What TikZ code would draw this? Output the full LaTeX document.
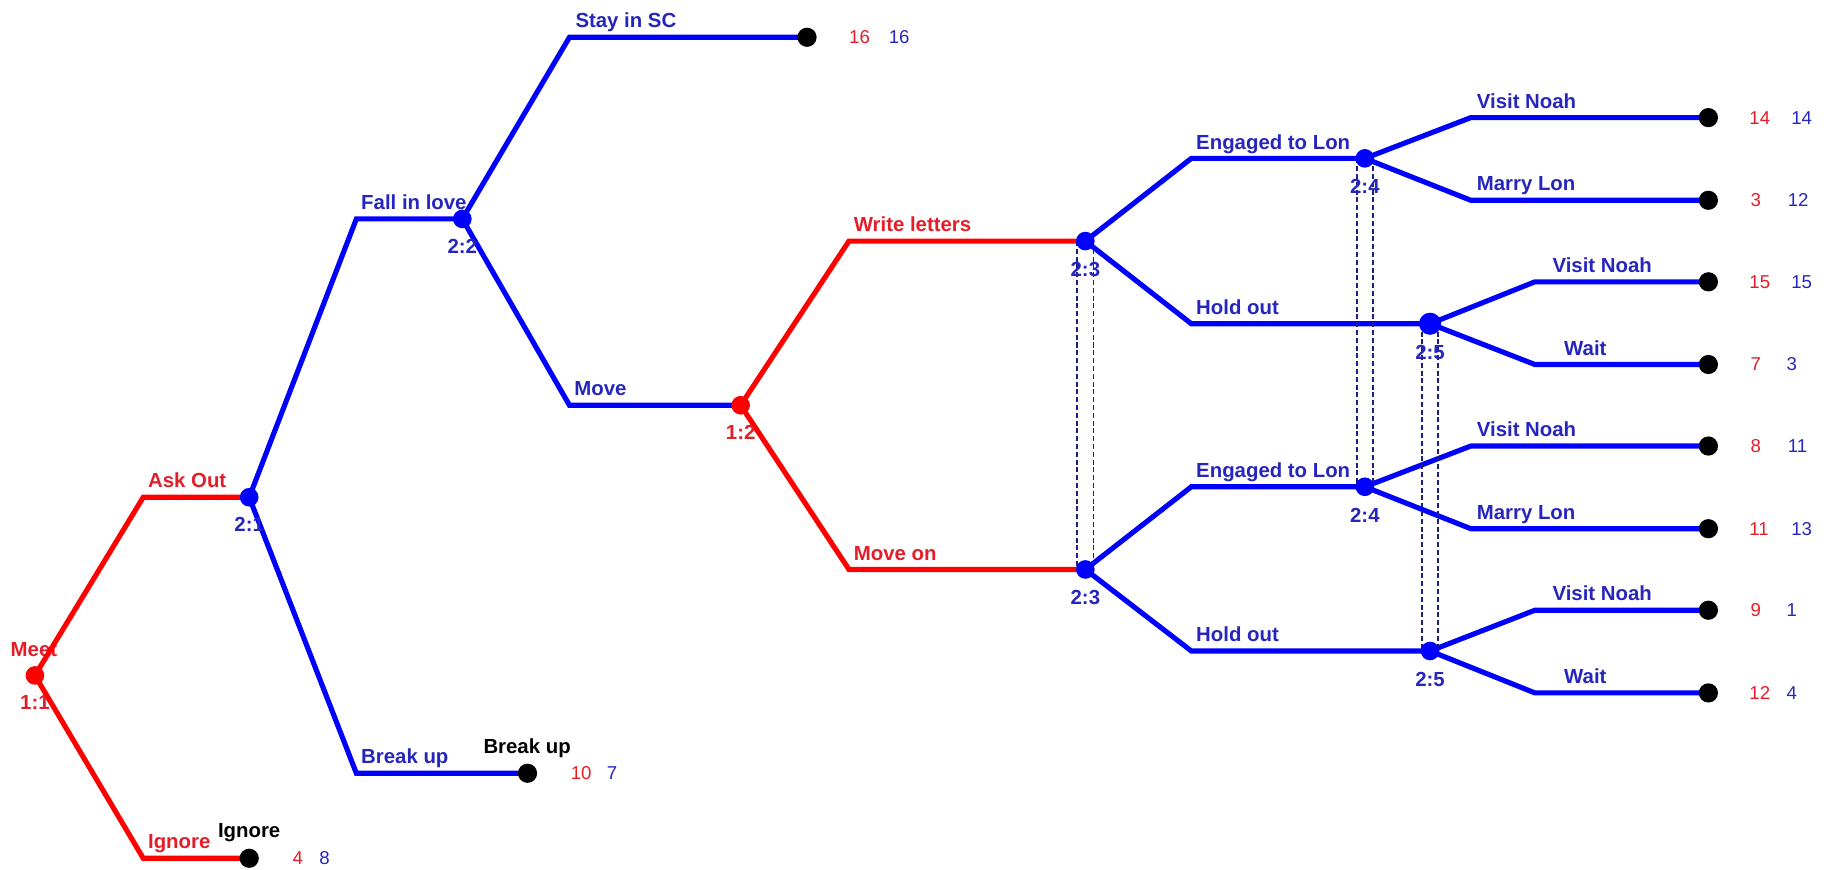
\documentclass[tikz,border=0pt]{standalone}
\usepackage{fontspec}
\setmainfont{Liberation Sans}
\pgfdeclarelayer{lbl}
\pgfdeclarelayer{edg}
\pgfsetlayers{lbl,edg,main}
\definecolor{redline}{RGB}{255,0,0}
\definecolor{blueline}{RGB}{0,0,255}
\definecolor{redtext}{RGB}{228,30,40}
\definecolor{bluetext}{RGB}{38,38,190}
\definecolor{infoblue}{RGB}{30,30,130}
\newcommand\mylabfont{\fontsize{17.5}{20}\selectfont\bfseries}
\newcommand\mypayfont{\fontsize{16}{18}\selectfont}
\tikzset{
  dec/.style={circle, inner sep=0pt, minimum size=16pt},
  rdec/.style={dec, fill=redline},
  bdec/.style={dec, fill=blueline},
  term/.style={circle, inner sep=0pt, minimum size=16.5pt, fill=black},
  redbr/.style={draw=redline, line width=4.4pt},
  bluebr/.style={draw=blueline, line width=4.4pt},
  infoset/.style={draw=infoblue, line width=1.4pt, dash pattern=on 4.3pt off 2.4pt},
  lab/.style={font=\mylabfont, inner sep=0pt, anchor=base west},
  rlab/.style={lab, text=redtext},
  blab/.style={lab, text=bluetext},
  klab/.style={lab, text=black},
  idlab/.style={font=\mylabfont, inner sep=0pt, anchor=north},
  pay/.style={font=\mypayfont, inner sep=0pt, anchor=west},
  rpay/.style={pay, text=redtext},
  bpay/.style={pay, text=bluetext}
}
\begin{document}
\begin{tikzpicture}[x=1pt,y=-1pt]
\useasboundingbox (0,0) rectangle (1568,747);
% bends
\coordinate (bAsk) at (123,427);
\coordinate (bIgn) at (123,737);
\coordinate (bFall) at (306,188);
\coordinate (bBrk) at (306,664);
\coordinate (bStay) at (489,32);
\coordinate (bMove) at (489,348);
\coordinate (bWl) at (729,207);
\coordinate (bMo) at (729,489);
\coordinate (bEa) at (1023,136);
\coordinate (bHa) at (1023,278);
\coordinate (bEb) at (1023,418);
\coordinate (bHb) at (1023,559);
\coordinate (bV1) at (1263,101);
\coordinate (bM1) at (1263,172);
\coordinate (bV2) at (1318,242);
\coordinate (bW2) at (1318,313);
\coordinate (bV3) at (1263,383);
\coordinate (bM3) at (1263,454);
\coordinate (bV4) at (1318,524);
\coordinate (bW4) at (1318,595);
% decision nodes
\node[rdec] (n11) at (30,580) {};
\node[bdec] (n21) at (214,427) {};
\node[bdec] (n22) at (397,188) {};
\node[rdec] (n12) at (636,348) {};
\node[bdec] (n23a) at (932,207) {};
\node[bdec] (n23b) at (932,489) {};
\node[bdec] (n24a) at (1172,136) {};
\node[bdec] (n24b) at (1172,418) {};
\node[bdec, minimum size=19pt] (n25a) at (1228,278) {};
\node[bdec] (n25b) at (1228,559) {};
% terminals
\node[term] (tIgn) at (214,737) {};
\node[term] (tBrk) at (453,664) {};
\node[term] (tStay) at (693,32) {};
\node[term] (t1) at (1467,101) {};
\node[term] (t2) at (1467,172) {};
\node[term] (t3) at (1467,242) {};
\node[term] (t4) at (1467,313) {};
\node[term] (t5) at (1467,383) {};
\node[term] (t6) at (1467,454) {};
\node[term] (t7) at (1467,524) {};
\node[term] (t8) at (1467,595) {};
% edges
\begin{pgfonlayer}{edg}
\draw[redbr] (n11.center) -- (bAsk) -- (n21.center);
\draw[redbr] (n11.center) -- (bIgn) -- (tIgn.center);
\draw[bluebr] (n21.center) -- (bFall) -- (n22.center);
\draw[bluebr] (n21.center) -- (bBrk) -- (tBrk.center);
\draw[bluebr] (n22.center) -- (bStay) -- (tStay.center);
\draw[bluebr] (n22.center) -- (bMove) -- (n12.center);
\draw[redbr] (n12.center) -- (bWl) -- (n23a.center);
\draw[redbr] (n12.center) -- (bMo) -- (n23b.center);
\draw[bluebr] (n23a.center) -- (bEa) -- (n24a.center);
\draw[bluebr] (n23a.center) -- (bHa) -- (n25a.center);
\draw[bluebr] (n23b.center) -- (bEb) -- (n24b.center);
\draw[bluebr] (n23b.center) -- (bHb) -- (n25b.center);
\draw[bluebr] (n24a.center) -- (bV1) -- (t1.center);
\draw[bluebr] (n24a.center) -- (bM1) -- (t2.center);
\draw[bluebr] (n25a.center) -- (bV2) -- (t3.center);
\draw[bluebr] (n25a.center) -- (bW2) -- (t4.center);
\draw[bluebr] (n24b.center) -- (bV3) -- (t5.center);
\draw[bluebr] (n24b.center) -- (bM3) -- (t6.center);
\draw[bluebr] (n25b.center) -- (bV4) -- (t7.center);
\draw[bluebr] (n25b.center) -- (bW4) -- (t8.center);
% information sets
\draw[infoset] ([xshift=-7pt]n23a.center) -- ([xshift=-7pt]n23b.center);
\draw[infoset] ([xshift=7pt]n23a.center) -- ([xshift=7pt]n23b.center);
\draw[infoset] ([xshift=-7pt]n24a.center) -- ([xshift=-7pt]n24b.center);
\draw[infoset] ([xshift=7pt]n24a.center) -- ([xshift=7pt]n24b.center);
\draw[infoset] ([xshift=-7pt]n25a.center) -- ([xshift=-7pt]n25b.center);
\draw[infoset] ([xshift=7pt]n25a.center) -- ([xshift=7pt]n25b.center);
\end{pgfonlayer}
% labels
\begin{pgfonlayer}{lbl}
\node[rlab] (lMeet) at (9,564) {Meet};
\node[rlab] (lAsk) at ([xshift=4pt,yshift=8pt]bAsk) {Ask Out};
\node[rlab] (lIgn) at ([xshift=4pt,yshift=8pt]bIgn) {Ignore};
\node[klab] (lIgnK) at ([xshift=-27pt,yshift=18pt]tIgn.center) {Ignore};
\node[blab] (lFall) at ([xshift=4pt,yshift=8pt]bFall) {Fall in love};
\node[blab] (lBrk) at ([xshift=4pt,yshift=8pt]bBrk) {Break up};
\node[klab] (lBrkK) at ([xshift=-38pt,yshift=17pt]tBrk.center) {Break up};
\node[blab] (lStay) at ([xshift=5pt,yshift=8pt]bStay) {Stay in SC};
\node[blab] (lMove) at ([xshift=4pt,yshift=8pt]bMove) {Move};
\node[rlab] (lWl) at ([xshift=4pt,yshift=8pt]bWl) {Write letters};
\node[rlab] (lMo) at ([xshift=4pt,yshift=8pt]bMo) {Move on};
\node[blab] (lEa) at ([xshift=4pt,yshift=8pt]bEa) {Engaged to Lon};
\node[blab] (lHa) at ([xshift=4pt,yshift=8pt]bHa) {Hold out};
\node[blab] (lEb) at ([xshift=4pt,yshift=8pt]bEb) {Engaged to Lon};
\node[blab] (lHb) at ([xshift=4pt,yshift=8pt]bHb) {Hold out};
\node[blab] (lV1) at ([xshift=5pt,yshift=8pt]bV1) {Visit Noah};
\node[blab] (lM1) at ([xshift=5pt,yshift=8pt]bM1) {Marry Lon};
\node[blab] (lV2) at ([xshift=15pt,yshift=8pt]bV2) {Visit Noah};
\node[blab] (lW2) at ([xshift=25pt,yshift=8pt]bW2) {Wait};
\node[blab] (lV3) at ([xshift=5pt,yshift=8pt]bV3) {Visit Noah};
\node[blab] (lM3) at ([xshift=5pt,yshift=8pt]bM3) {Marry Lon};
\node[blab] (lV4) at ([xshift=15pt,yshift=8pt]bV4) {Visit Noah};
\node[blab] (lW4) at ([xshift=25pt,yshift=8pt]bW4) {Wait};
\end{pgfonlayer}
% node ids
\node[idlab, text=redtext] (i11) at ([yshift=-17pt]n11.center) {1:1};
\node[idlab, text=bluetext] (i21) at ([yshift=-17pt]n21.center) {2:1};
\node[idlab, text=bluetext] (i22) at ([yshift=-17pt]n22.center) {2:2};
\node[idlab, text=redtext] (i12) at ([yshift=-17pt]n12.center) {1:2};
\node[idlab, text=bluetext] (i23a) at ([yshift=-18pt]n23a.center) {2:3};
\node[idlab, text=bluetext] (i23b) at ([yshift=-18pt]n23b.center) {2:3};
\node[idlab, text=bluetext] (i24a) at ([yshift=-18pt]n24a.center) {2:4};
\node[idlab, text=bluetext] (i24b) at ([yshift=-18pt]n24b.center) {2:4};
\node[idlab, text=bluetext] (i25a) at ([yshift=-18pt]n25a.center) {2:5};
\node[idlab, text=bluetext] (i25b) at ([yshift=-18pt]n25b.center) {2:5};
% payoffs
\node[rpay] (pIgnA) at ([xshift=37pt]tIgn.center) {4};
\node[bpay] (pIgnB) at ([xshift=60pt]tIgn.center) {8};
\node[rpay] (pBrkA) at ([xshift=37pt]tBrk.center) {10};
\node[bpay] (pBrkB) at ([xshift=68pt]tBrk.center) {7};
\node[rpay] (pStA) at ([xshift=36pt]tStay.center) {16};
\node[bpay] (pStB) at ([xshift=70pt]tStay.center) {16};
\node[rpay] (p1a) at ([xshift=35pt]t1.center) {14};
\node[bpay] (p1b) at ([xshift=71pt]t1.center) {14};
\node[rpay] (p2a) at ([xshift=36pt]t2.center) {3};
\node[bpay] (p2b) at ([xshift=68pt]t2.center) {12};
\node[rpay] (p3a) at ([xshift=35pt]t3.center) {15};
\node[bpay] (p3b) at ([xshift=71pt]t3.center) {15};
\node[rpay] (p4a) at ([xshift=36pt]t4.center) {7};
\node[bpay] (p4b) at ([xshift=67pt]t4.center) {3};
\node[rpay] (p5a) at ([xshift=36pt]t5.center) {8};
\node[bpay] (p5b) at ([xshift=68pt]t5.center) {11};
\node[rpay] (p6a) at ([xshift=35pt]t6.center) {11};
\node[bpay] (p6b) at ([xshift=71pt]t6.center) {13};
\node[rpay] (p7a) at ([xshift=36pt]t7.center) {9};
\node[bpay] (p7b) at ([xshift=67pt]t7.center) {1};
\node[rpay] (p8a) at ([xshift=35pt]t8.center) {12};
\node[bpay] (p8b) at ([xshift=67pt]t8.center) {4};
\end{tikzpicture}
\end{document}
